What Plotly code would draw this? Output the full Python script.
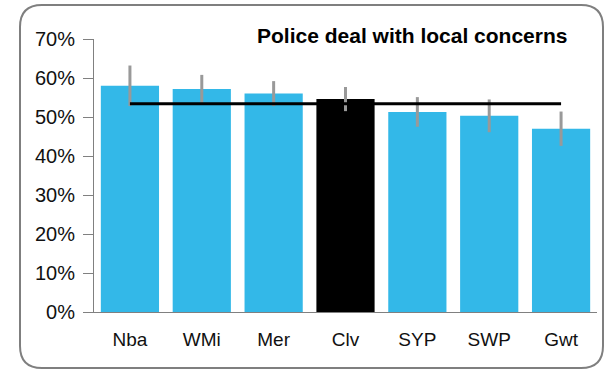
import plotly.graph_objects as go

categories = ["Nba", "WMi", "Mer", "Clv", "SYP", "SWP", "Gwt"]
values = [58.0, 57.2, 56.0, 54.6, 51.3, 50.3, 47.0]
errors = [5.2, 3.6, 3.2, 3.1, 3.8, 4.2, 4.4]
average = [53.4, 53.4, 53.4, 53.4, 53.4, 53.4, 53.4]
bar_colors = ["#33B8E8", "#33B8E8", "#33B8E8", "#000000", "#33B8E8", "#33B8E8", "#33B8E8"]
y_ticks = [0, 10, 20, 30, 40, 50, 60, 70]
y_labels = ["0%", "10%", "20%", "30%", "40%", "50%", "60%", "70%"]
title = "Police deal with local concerns"

W, H = 606, 372
ML, MR, MT, MB = 94, 9, 39, 60
PW, PH = W - ML - MR, H - MT - MB

def px(x):
    return (x - ML) / PW

def py(y):
    return (H - MB - y) / PH

fig = go.Figure()
fig.add_trace(go.Bar(
    x=categories, y=values,
    marker=dict(color=bar_colors, line=dict(width=0)),
    error_y=dict(type="data", array=errors, color="#999999", thickness=3, width=0),
    showlegend=False, hoverinfo="skip",
))
fig.add_trace(go.Scatter(
    x=categories, y=average, mode="lines",
    line=dict(color="#000000", width=3),
    showlegend=False, hoverinfo="skip",
))

# rounded frame
x0, x1, y0, y1 = px(20), px(603), py(368), py(5)
rx, ry = 22 / PW, 22 / PH
path = (f"M {x0+rx},{y1} L {x1-rx},{y1} Q {x1},{y1} {x1},{y1-ry} "
        f"L {x1},{y0+ry} Q {x1},{y0} {x1-rx},{y0} L {x0+rx},{y0} "
        f"Q {x0},{y0} {x0},{y0+ry} L {x0},{y1-ry} Q {x0},{y1} {x0+rx},{y1} Z")
fig.add_shape(type="path", path=path, xref="paper", yref="paper",
              line=dict(color="#7f7f7f", width=2), layer="above")

fig.add_annotation(text="<b>" + title + "</b>", xref="paper", yref="paper",
                   x=px(412), y=py(35), xanchor="center", yanchor="middle",
                   showarrow=False, font=dict(size=21, color="#000000"))

fig.update_layout(
    width=W, height=H,
    margin=dict(l=ML, r=MR, t=MT, b=MB),
    paper_bgcolor="white", plot_bgcolor="white",
    font=dict(family="Liberation Sans, Arial, sans-serif", size=19, color="#111111"),
    bargap=0.19,
)
fig.update_xaxes(
    showline=True, linecolor="#808080", linewidth=1,
    ticks="outside", ticklen=10, tickcolor="rgba(0,0,0,0)",
    showgrid=False, zeroline=False,
    range=[-0.5, 6.5],
)
fig.update_yaxes(
    range=[0, 70], tickvals=y_ticks, ticktext=y_labels,
    showline=True, linecolor="#808080", linewidth=1,
    ticks="outside", ticklen=10, tickcolor="#808080",
    ticklabelstandoff=4, tickfont=dict(size=20),
    showgrid=False, zeroline=False,
)

fig.write_html("out.html", config={"displayModeBar": False},
               post_script="document.body.style.margin='0';document.body.style.overflow='hidden';")
